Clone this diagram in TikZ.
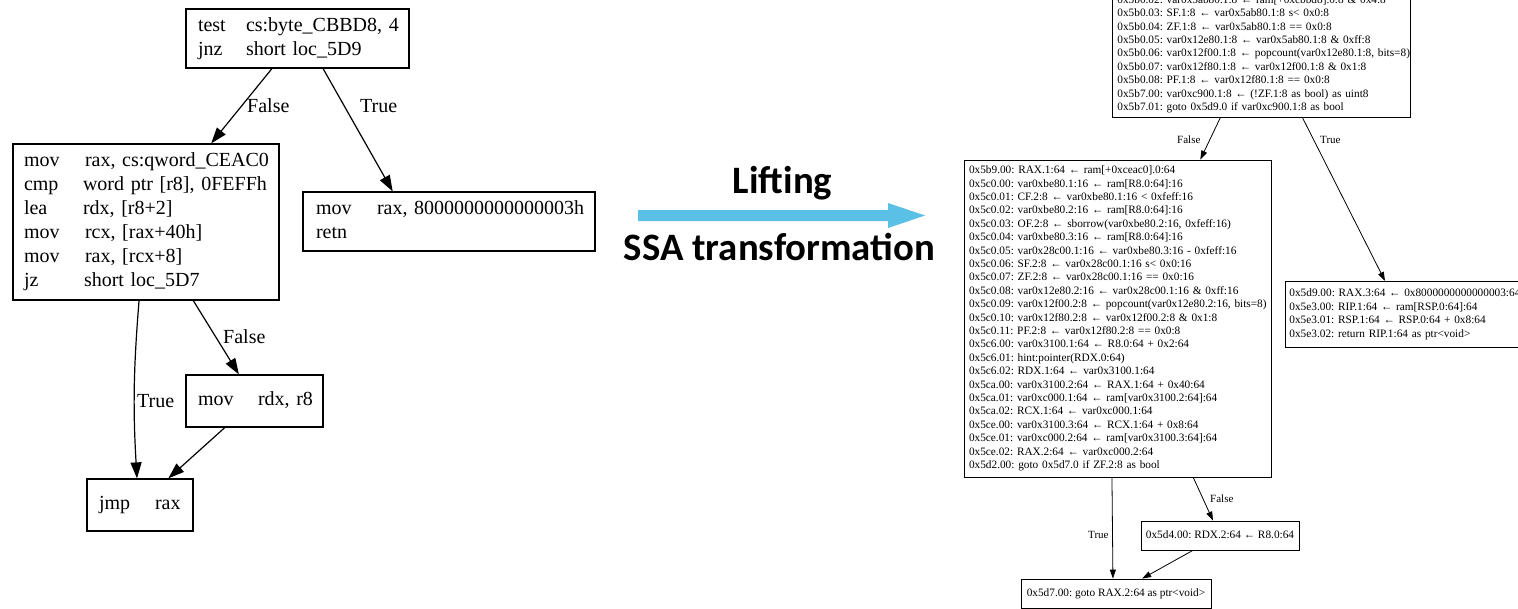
\documentclass[tikz,border=0pt]{standalone}
\usepackage{fontspec}
\setmainfont{Liberation Serif}
\newfontfamily\liftfont{Carlito}
\usetikzlibrary{arrows.meta,calc}
\frenchspacing
\newcommand{\Ln}[1]{\mbox{\strut #1}}
\newcommand{\Mn}[2]{\makebox[#1][l]{#2}}
\definecolor{liftcol}{RGB}{91,192,230}
\tikzset{
  asm/.style={draw=black, line width=1.2pt, inner ysep=0pt, align=left,
    font=\fontsize{20pt}{24pt}\selectfont},
  ir/.style={draw=black, line width=0.8pt, inner ysep=3pt, inner xsep=5pt, align=left,
    font=\fontsize{11.3pt}{13.4pt}\selectfont},
  irc/.style={draw=black, line width=0.8pt, inner sep=0pt,
    font=\fontsize{11.3pt}{13.4pt}\selectfont},
  ledge/.style={line width=1.2pt, -{Triangle[length=16pt,width=11pt]}},
  redge/.style={line width=0.8pt, -{Triangle[length=9pt,width=6pt]}},
  llbl/.style={anchor=base west, inner sep=0pt, font=\fontsize{20pt}{24pt}\selectfont},
  rlbl/.style={anchor=base west, inner sep=0pt, font=\fontsize{11pt}{13.4pt}\selectfont},
  liftlbl/.style={anchor=base, inner sep=0pt, font=\liftfont\bfseries\fontsize{38.8pt}{40pt}\selectfont},
}
\begin{document}
\frenchspacing
\begin{tikzpicture}[x=1pt,y=-1pt]
\useasboundingbox (0,0) rectangle (1518,608);
\fill[white] (0,0) rectangle (1518,608);
\clip (0,0) rectangle (1518,608);

% ---------------- left graph ----------------
\node[asm, inner xsep=12pt, text width=199pt, minimum height=59pt] (A) at (297.5,38.5)
  {\Ln{\Mn{48pt}{test}cs:byte\_CBBD8, 4}\\
   \Ln{\Mn{48pt}{jnz}short loc\_5D9}};
\node[asm, inner xsep=11pt, text width=244pt, minimum height=156pt] (B) at (146,222)
  {\Ln{\Mn{61pt}{mov}rax, cs:qword\_CEAC0}\\
   \Ln{\Mn{59pt}{cmp}word ptr [r8], 0FEFFh}\\
   \Ln{\Mn{59pt}{lea}rdx, [r8+2]}\\
   \Ln{\Mn{61pt}{mov}rcx, [rax+40h]}\\
   \Ln{\Mn{61pt}{mov}rax, [rcx+8]}\\
   \Ln{\Mn{60pt}{jz}short loc\_5D7}};
\node[asm, inner xsep=13pt, text width=266pt, minimum height=59pt] (C) at (449,221.5)
  {\Ln{\Mn{61pt}{mov}rax, 8000000000000003h}\\
   \Ln{retn}};
\node[asm, inner xsep=12pt, text width=113pt, minimum height=52pt] (D) at (254.5,401)
  {\Ln{\Mn{60pt}{mov}rdx, r8}};
\node[asm, inner xsep=12pt, text width=82pt, minimum height=52pt] (E) at (140,505)
  {\Ln{\Mn{56pt}{jmp}rax}};

\draw[ledge] ($(A.south west)!0.386!(A.south east)$) -- ($(B.north west)!0.744!(B.north east)$);
\draw[ledge] ($(A.south west)!0.614!(A.south east)$) -- ($(C.north west)!0.308!(C.north east)$);
\draw[ledge] ($(B.south west)!0.474!(B.south east)$) to[bend right=4] ($(E.north west)!0.472!(E.north east)$);
\draw[ledge] ($(B.south west)!0.677!(B.south east)$) -- ($(D.north west)!0.387!(D.north east)$);
\draw[ledge] ($(D.south west)!0.285!(D.south east)$) -- ($(E.north west)!0.764!(E.north east)$);

\node[llbl] (lab1) at (247,112.6) {False};
\node[llbl] (lab2) at (360,112.6) {True};
\node[llbl] (lab3) at (223,343.6) {False};
\node[llbl] (lab4) at (137,407.6) {True};

% ---------------- lifting arrow ----------------
\fill[liftcol] (638,210) -- (888,210) -- (888,203) -- (925,215.5) -- (888,228) -- (888,221) -- (638,221) -- cycle;
\node[liftlbl] (lift) at (782.5,193) {Lifting};
\node[liftlbl] (ssa) at (779.5,260) {SSA transformation};

% ---------------- right graph ----------------
\node[ir, anchor=south west, text width=288pt] (F) at (1112,118)
  {\Ln{0x5b0.02: var0x5ab80.1:8 ← ram[+0xcbbd8].0:8 \& 0x4:8}\\
   \Ln{0x5b0.03: SF.1:8 ← var0x5ab80.1:8 s< 0x0:8}\\
   \Ln{0x5b0.04: ZF.1:8 ← var0x5ab80.1:8 == 0x0:8}\\
   \Ln{0x5b0.05: var0x12e80.1:8 ← var0x5ab80.1:8 \& 0xff:8}\\
   \Ln{0x5b0.06: var0x12f00.1:8 ← popcount(var0x12e80.1:8, bits=8)}\\
   \Ln{0x5b0.07: var0x12f80.1:8 ← var0x12f00.1:8 \& 0x1:8}\\
   \Ln{0x5b0.08: PF.1:8 ← var0x12f80.1:8 == 0x0:8}\\
   \Ln{0x5b7.00: var0xc900.1:8 ← (!ZF.1:8 as bool) as uint8}\\
   \Ln{0x5b7.01: goto 0x5d9.0 if var0xc900.1:8 as bool}};

\node[ir, inner ysep=0pt, text width=297pt, minimum height=317pt] (H) at (1117.5,318.5)
  {\Ln{0x5b9.00: RAX.1:64 ← ram[+0xceac0].0:64}\\
   \Ln{0x5c0.00: var0xbe80.1:16 ← ram[R8.0:64]:16}\\
   \Ln{0x5c0.01: CF.2:8 ← var0xbe80.1:16 < 0xfeff:16}\\
   \Ln{0x5c0.02: var0xbe80.2:16 ← ram[R8.0:64]:16}\\
   \Ln{0x5c0.03: OF.2:8 ← sborrow(var0xbe80.2:16, 0xfeff:16)}\\
   \Ln{0x5c0.04: var0xbe80.3:16 ← ram[R8.0:64]:16}\\
   \Ln{0x5c0.05: var0x28c00.1:16 ← var0xbe80.3:16 - 0xfeff:16}\\
   \Ln{0x5c0.06: SF.2:8 ← var0x28c00.1:16 s< 0x0:16}\\
   \Ln{0x5c0.07: ZF.2:8 ← var0x28c00.1:16 == 0x0:16}\\
   \Ln{0x5c0.08: var0x12e80.2:16 ← var0x28c00.1:16 \& 0xff:16}\\
   \Ln{0x5c0.09: var0x12f00.2:8 ← popcount(var0x12e80.2:16, bits=8)}\\
   \Ln{0x5c0.10: var0x12f80.2:8 ← var0x12f00.2:8 \& 0x1:8}\\
   \Ln{0x5c0.11: PF.2:8 ← var0x12f80.2:8 == 0x0:8}\\
   \Ln{0x5c6.00: var0x3100.1:64 ← R8.0:64 + 0x2:64}\\
   \Ln{0x5c6.01: hint:pointer(RDX.0:64)}\\
   \Ln{0x5c6.02: RDX.1:64 ← var0x3100.1:64}\\
   \Ln{0x5ca.00: var0x3100.2:64 ← RAX.1:64 + 0x40:64}\\
   \Ln{0x5ca.01: var0xc000.1:64 ← ram[var0x3100.2:64]:64}\\
   \Ln{0x5ca.02: RCX.1:64 ← var0xc000.1:64}\\
   \Ln{0x5ce.00: var0x3100.3:64 ← RCX.1:64 + 0x8:64}\\
   \Ln{0x5ce.01: var0xc000.2:64 ← ram[var0x3100.3:64]:64}\\
   \Ln{0x5ce.02: RAX.2:64 ← var0xc000.2:64}\\
   \Ln{0x5d2.00: goto 0x5d7.0 if ZF.2:8 as bool}};

\node[ir, inner ysep=0pt, inner xsep=4pt, anchor=north west, text width=250pt, minimum height=66pt] (G) at (1285,281)
  {\Ln{0x5d9.00: RAX.3:64 ← 0x8000000000000003:64}\\
   \Ln{0x5e3.00: RIP.1:64 ← ram[RSP.0:64]:64}\\
   \Ln{0x5e3.01: RSP.1:64 ← RSP.0:64 + 0x8:64}\\
   \Ln{0x5e3.02: return RIP.1:64 as ptr<void>}};

\node[irc, minimum width=158pt, minimum height=29pt] (I) at (1220,535.5)
  {\Ln{0x5d4.00: RDX.2:64 ← R8.0:64}};
\node[irc, minimum width=190pt, minimum height=29pt] (J) at (1116,593.5)
  {\Ln{0x5d7.00: goto RAX.2:64 as ptr<void>}};

\draw[redge] ($(F.south west)!0.362!(F.south east)$) -- ($(H.north west)!0.769!(H.north east)$);
\draw[redge] ($(F.south west)!0.638!(F.south east)$) -- ($(G.north west)+(100,0)$);
\draw[redge] ($(H.south west)!0.482!(H.south east)$) -- ($(J.north west)!0.484!(J.north east)$);
\draw[redge] ($(H.south west)!0.746!(H.south east)$) -- ($(I.north west)!0.456!(I.north east)$);
\draw[redge] ($(I.south west)!0.329!(I.south east)$) -- ($(J.north west)!0.637!(J.north east)$);

\node[rlbl] (rl1) at (1177,143.6) {False};
\node[rlbl] (rl2) at (1320,143.6) {True};
\node[rlbl] (rl3) at (1210,502.6) {False};
\node[rlbl] (rl4) at (1088,538.6) {True};
\end{tikzpicture}
\end{document}
